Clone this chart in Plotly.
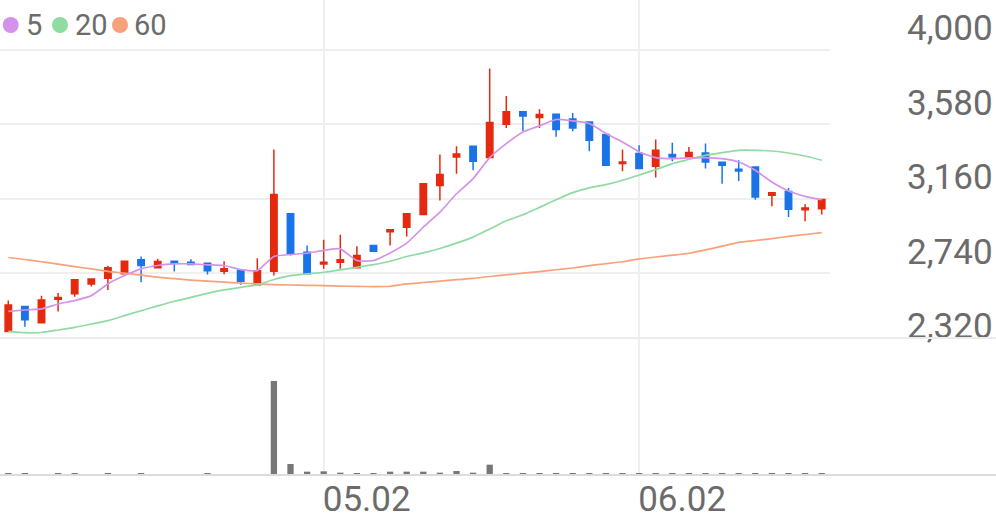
import plotly.graph_objects as go

# ---------------- data ----------------
opens  = [2412, 2553, 2461, 2593, 2624, 2680, 2712, 2738, 2816, 2771,
          2808, 2802, 2797, 2752, 2755, 2675, 2752, 3076, 2859, 2793,
          2802, 2771, 2897, 2975, 3000, 3072, 3236, 3396, 3457, 3393,
          3581, 3651, 3619, 3638, 3610, 3594, 3523, 3359, 3416, 3344,
          3410, 3396, 3419, 3366, 3327, 3340, 3180, 3202, 3099, 3104]
highs  = [2586, 2555, 2614, 2629, 2705, 2708, 2782, 2808, 2835, 2822,
          2808, 2819, 2797, 2808, 2755, 2825, 3438, 3076, 2897, 2929,
          2957, 2893, 2897, 2986, 3076, 3246, 3410, 3457, 3457, 3896,
          3740, 3651, 3665, 3642, 3645, 3594, 3523, 3438, 3463, 3495,
          3476, 3453, 3472, 3366, 3378, 3340, 3195, 3221, 3129, 3157]
lows   = [2410, 2439, 2461, 2525, 2608, 2665, 2646, 2738, 2689, 2771,
          2750, 2789, 2733, 2735, 2675, 2675, 2727, 2840, 2737, 2765,
          2765, 2771, 2865, 2897, 2948, 3072, 3151, 3302, 3321, 3393,
          3560, 3543, 3560, 3510, 3542, 3429, 3349, 3316, 3331, 3280,
          3372, 3396, 3331, 3246, 3261, 3155, 3118, 3057, 3033, 3072]
closes = [2561, 2478, 2590, 2604, 2703, 2708, 2771, 2808, 2784, 2806,
          2797, 2789, 2755, 2765, 2695, 2755, 3184, 2850, 2737, 2802,
          2816, 2840, 2865, 2986, 3076, 3246, 3297, 3413, 3372, 3591,
          3651, 3628, 3636, 3551, 3560, 3491, 3349, 3368, 3331, 3434,
          3396, 3421, 3368, 3349, 3317, 3170, 3195, 3101, 3108, 3157]

ma5  = [2525, 2533, 2539, 2567, 2586, 2614, 2680, 2727, 2765, 2784,
        2793, 2793, 2788, 2784, 2761, 2755, 2835, 2846, 2853, 2869,
        2878, 2812, 2812, 2855, 2910, 3000, 3085, 3189, 3274, 3393,
        3472, 3538, 3572, 3608, 3600, 3585, 3529, 3481, 3425, 3393,
        3387, 3391, 3393, 3387, 3368, 3321, 3255, 3204, 3174, 3155]
ma20 = [2412, 2405, 2406, 2420, 2435, 2454, 2473, 2501, 2529, 2556,
        2582, 2604, 2627, 2646, 2661, 2675, 2705, 2727, 2737, 2746,
        2759, 2774, 2789, 2808, 2835, 2855, 2880, 2910, 2944, 2990,
        3036, 3070, 3112, 3155, 3195, 3222, 3240, 3265, 3295, 3325,
        3359, 3382, 3406, 3421, 3434, 3434, 3430, 3419, 3402, 3378]
ma60 = [2829, 2818, 2805, 2792, 2778, 2765, 2751, 2741, 2730, 2718,
        2710, 2702, 2696, 2690, 2685, 2680, 2676, 2674, 2672, 2671,
        2668, 2666, 2665, 2667, 2680, 2688, 2696, 2704, 2711, 2722,
        2731, 2741, 2750, 2760, 2770, 2783, 2794, 2805, 2821, 2832,
        2842, 2853, 2872, 2893, 2914, 2925, 2936, 2948, 2959, 2969]

volumes = [16, 16, 14, 20, 16, 14, 16, 14, 16, 14,
           14, 14, 16, 14, 14, 14, 1410, 165, 50, 55,
           35, 22, 25, 50, 50, 50, 35, 60, 35, 155,
           22, 16, 16, 22, 16, 22, 30, 18, 25, 16,
           16, 16, 16, 25, 16, 30, 16, 25, 25, 16]

x_idx = list(range(len(closes)))
date_tick_pos = [19, 38]
date_tick_labels = ["05.02", "06.02"]
price_grid = [2740, 3160, 3580, 4000]
price_ticks = [2320, 2740, 3160, 3580, 4000]
price_tick_labels = ["2,320", "2,740", "3,160", "3,580", "4,000"]
legend_names = ["5", "20", "60"]

# ---------------- styling ----------------
W, H = 996, 519
RED, BLUE = "#e5290f", "#1a74e8"
C5, C20, C60 = "#d493ea", "#8fdba2", "#f7a27b"
GRID = "#efefef"
TXT = "#6b6b6b"
FONT = "Roboto"

def py(y):
    return 1 - y / H

k = 1260 / 223.3            # price units per pixel
p_top = 4000 + 50 * k
p_bot = 4000 - 299 * k

fig = go.Figure()
fig.add_trace(go.Candlestick(
    x=x_idx, open=opens, high=highs, low=lows, close=closes,
    increasing=dict(line=dict(color=RED, width=1.5), fillcolor=RED),
    decreasing=dict(line=dict(color=BLUE, width=1.5), fillcolor=BLUE),
    whiskerwidth=0, showlegend=False, hoverinfo="skip",
    xaxis="x", yaxis="y"))
for vals, col in ((ma60, C60), (ma20, C20), (ma5, C5)):
    fig.add_trace(go.Scatter(
        x=x_idx, y=vals, mode="lines",
        line=dict(color=col, width=1.7, shape="spline", smoothing=0.5),
        showlegend=False, hoverinfo="skip", xaxis="x", yaxis="y"))
fig.add_trace(go.Bar(
    x=x_idx, y=volumes, width=0.38, marker=dict(color="#777777", line=dict(width=0)),
    showlegend=False, hoverinfo="skip", xaxis="x", yaxis="y2"))
# helper (invisible) trace so the label axis is drawn
fig.add_trace(go.Scatter(x=[x_idx[0]], y=[price_ticks[-1]], mode="markers",
                         marker=dict(opacity=0), showlegend=False,
                         hoverinfo="skip", xaxis="x", yaxis="y3"))

tickfont = dict(family=FONT, size=35, color=TXT)

fig.update_layout(
    width=W, height=H, autosize=False,
    margin=dict(l=0, r=0, t=0, b=0, autoexpand=False),
    paper_bgcolor="white", plot_bgcolor="white",
    showlegend=False,
    boxgap=0.45,
    xaxis=dict(domain=[0, 830 / W], range=[-0.5, len(closes) - 0.5], anchor="y2",
               tickmode="array", tickvals=date_tick_pos, ticktext=date_tick_labels,
               showgrid=True, gridcolor=GRID, gridwidth=1.5,
               zeroline=False, showline=False, ticks="", automargin=False,
               tickfont=tickfont, ticklabelshift=43, ticklabelstandoff=0,
               rangeslider=dict(visible=False), fixedrange=True),
    yaxis=dict(domain=[py(349), 1], range=[p_bot, p_top], anchor="x",
               tickmode="array", tickvals=price_grid, showticklabels=False,
               showgrid=True, gridcolor=GRID, gridwidth=1.5, automargin=False,
               zeroline=False, showline=False, ticks="", fixedrange=True),
    yaxis3=dict(overlaying="y", anchor="free", position=906 / W, side="right",
                range=[p_bot, p_top], tickmode="array",
                tickvals=price_ticks, ticktext=price_tick_labels,
                showgrid=False, zeroline=False, showline=False, ticks="",
                automargin=False,
                tickfont=tickfont, ticklabelshift=-22, fixedrange=True),
    yaxis2=dict(domain=[py(475), py(338)], range=[0, max(volumes) * 137 / 94],
                anchor="x", showgrid=False, showticklabels=False, automargin=False,
                zeroline=False, showline=False, ticks="", fixedrange=True),
)

shapes = [
    dict(type="line", xref="paper", yref="paper", x0=0, x1=1, y0=py(338), y1=py(338),
         line=dict(color="#ececec", width=2)),
    dict(type="line", xref="paper", yref="paper", x0=0, x1=1, y0=py(475), y1=py(475),
         line=dict(color="#dcdcdc", width=2)),
]
annotations = []
for name, col, cx, tx in zip(legend_names, (C5, C20, C60), (10.7, 60, 120), (24, 73, 132)):
    shapes.append(dict(type="circle", xref="paper", yref="paper",
                       x0=(cx - 8) / W, x1=(cx + 8) / W, y0=py(33), y1=py(17),
                       fillcolor=col, line=dict(width=0)))
    annotations.append(dict(text=name, xref="paper", yref="paper", x=tx / W, y=py(25),
                            xanchor="left", yanchor="middle", showarrow=False,
                            font=dict(family=FONT, size=29, color=TXT)))
fig.update_layout(shapes=shapes, annotations=annotations)

fig.write_html("out.html", config={"displayModeBar": False},
               post_script="document.body.style.margin='0';document.body.style.padding='0';")
